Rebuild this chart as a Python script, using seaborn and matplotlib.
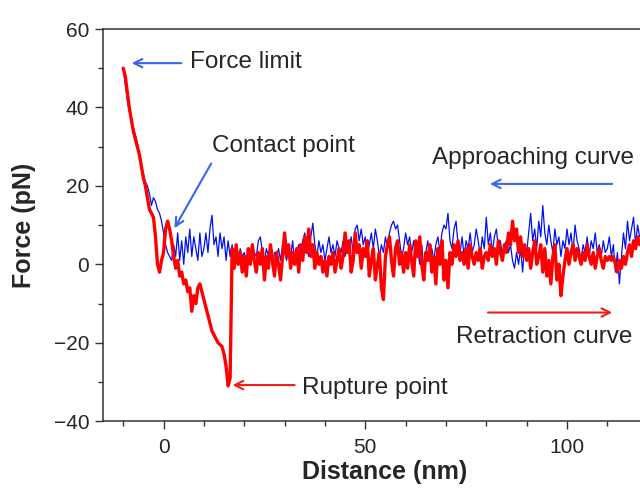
import numpy as np
import matplotlib
matplotlib.use("Agg")
import matplotlib.pyplot as plt
import matplotlib.ticker as mticker
import seaborn as sns

# ---------------------------------------------------------------
# data (0.5 nm sampling)
# ---------------------------------------------------------------
distance = np.arange(-10, 118.01, 0.5)

approach = [
    # -10 .. -0.5
    50, 46, 42, 39, 37, 35, 33, 31, 28, 25, 23, 21, 20, 18, 15, 17, 16, 14, 13, 11,
    # 0 .. 9.5
    8, 5, 3, 2, 1, 5, 2, 8, 1, 6, 0, 7, 3, 9, 2, 7, 4, 1, 8, 2,
    # 10 .. 19.5
    4, 8, 3, 9, 12.5, 5, 7, 2, 8, 4, 7, 1, 6, 2, 5, 0, 3, 1, 4, 2,
    # 20 .. 29.5
    3, 1, 4, 2, 5, 3, 2, 6, 7, 3, 1, 4, 2, 5, -1, 3, 2, 4, 1, 5,
    # 30 .. 39.5
    3, 1, 4, 2, 6, 0, 3, 5, 2, 6, 8, 4, 2, 7, 10.5, 5, 2, 6, 3, 5,
    # 40 .. 49.5
    1, 4, 7, 3, 5, 2, 6, 4, 3, 6, 2, 5, 4, 7, 3, 9, 10, 6, 9, 5,
    # 50 .. 59.5
    7, 3, 5, 8, 4, 9, 6, 2, 5, 3, 7, 4, 8, 10, 11, 9, 10, 6, 2, 4,
    # 60 .. 69.5
    8, 5, 7, 3, 6, 2, 4, 0, 5, -1, 3, 6, 2, 4, 1, 5, 7, 3, 8, 10,
    # 70 .. 79.5
    9, 13, 6, 4, 9, 11, 5, 3, 7, 2, 6, 4, 8, 3, 5, 9, 6, 2, 7, 4,
    # 80 .. 89.5
    12, 5, 8, 3, 7, 9, 4, 6, 2, 5, 6, 3, 5, 1, -1, 3, 0, 4, -2, 5,
    # 90 .. 99.5
    3, 8, 13, 6, 9, 4, 11, 7, 15, 8, 5, 10, 6, 3, 9, 5, 7, 2, 6, 4,
    # 100 .. 109.5
    9, 5, 8, 3, 10, 6, 4, 1, 5, 3, 7, 2, 6, 4, 8, 3, 5, 2, 6, 3,
    # 110 .. 118
    4, 7, 2, 5, -2, 3, -5, 2, 8, 4, 11, 6, 9, 12, 5, 10, 7,
]

retraction = [
    # -10 .. -0.5
    50, 48, 44, 40, 37, 34, 32, 30, 28, 25, 22, 20, 17, 14, 13, 12, 7, 0, -2, 1,
    # 0 .. 9.5
    3, 9, 11, 9, 6, 2, -1, 1, -3, -2, -5, -4, -7, -6, -12, -8, -10, -6, -5, -7,
    # 10 .. 19.5
    -9, -11, -13, -15, -17, -18, -19, -20, -20.5, -21, -23, -26, -31, -29, 4, -1, 5, 0, 3, -2,
    # 20 .. 29.5
    2, -3, 4, 0, 5, 1, -2, 3, 0, 4, -4, 2, -1, 5, 1, -3, 3, 0, -4, 2,
    # 30 .. 39.5
    8, 2, 5, -1, 3, 0, 4, -2, 5, 1, 7, 3, 9, 2, 5, -1, 3, 0, 2, -2,
    # 40 .. 49.5
    1, -3, 2, 0, 3, -2, 1, 4, -1, 2, 8, 3, 6, -2, 1, 8, 3, 5, -1, 4,
    # 50 .. 59.5
    2, 6, -3, 1, 4, -4, 0, 3, -6, -9, 2, 5, 7, 1, -3, 4, 6, 0, 3, -2,
    # 60 .. 69.5
    3, -1, 5, 1, -3, 6, 2, 7, 0, -4, 3, 1, 5, -2, 2, -5, 4, 0, 6, -4,
    # 70 .. 79.5
    1, -6, 3, 0, 5, 2, 6, 1, 3, 0, 4, -1, 5, 2, 0, 3, 1, 4, -1, 2,
    # 80 .. 89.5
    3, 1, 5, 2, 4, 0, 6, 3, 1, 5, 3, 8, 5, 11, 6, 9, 3, 7, 2, 5,
    # 90 .. 99.5
    1, 4, -1, 3, 6, 0, 2, 5, -2, 4, -3, 1, -5, 2, 5, -4, 0, -8, -3, 1,
    # 100 .. 109.5
    4, 0, 3, 5, 1, 4, 2, 0, 3, 1, 5, 2, 0, 3, -1, 2, 4, 1, -1, 2,
    # 110 .. 118
    1, 2, 1, 2, 0, -2, 1, -1, 2, 0, 3, 5, 2, 6, 4, 7, 5,
]

assert len(approach) == len(distance) == len(retraction)

# ---------------------------------------------------------------
# style
# ---------------------------------------------------------------
sns.set_theme(style="ticks")
plt.rcParams["font.family"] = ["Liberation Sans", "DejaVu Sans"]
TXT = "#262626"
BLUE = "#0010f0"
RED = "#ff0000"
ARROW_BLUE = "#3a66ea"

fig = plt.figure(figsize=(6.4, 4.92), dpi=100)
ax = fig.add_axes([0.161, 0.144, 0.839, 0.797])

sns.lineplot(x=distance, y=approach, ax=ax, color=BLUE, linewidth=0.9,
             estimator=None, sort=False)
sns.lineplot(x=distance, y=retraction, ax=ax, color=RED, linewidth=2.4,
             estimator=None, sort=False)

ax.set_xlim(-15, 118.1)
ax.set_ylim(-40, 60)
ax.xaxis.set_major_locator(mticker.MultipleLocator(50))
ax.xaxis.set_minor_locator(mticker.MultipleLocator(10))
ax.yaxis.set_major_locator(mticker.MultipleLocator(20))
ax.yaxis.set_minor_locator(mticker.MultipleLocator(10))
ax.tick_params(which="major", length=6, width=1, color="#333333",
               labelsize=15, labelcolor=TXT, pad=4)
ax.tick_params(which="minor", length=3.5, width=1, color="#333333")
ax.tick_params(axis="x", which="major", pad=6)

for side in ["left", "bottom", "top"]:
    ax.spines[side].set_color("#333333")
    ax.spines[side].set_linewidth(1.1)
ax.spines["right"].set_visible(False)

ax.set_xlabel("Distance (nm)", fontsize=18, fontweight="bold", color=TXT)
ax.set_ylabel("Force (pN)", fontsize=18, fontweight="bold", color=TXT)
ax.xaxis.set_label_coords(0.525, -0.10)
ax.yaxis.set_label_coords(-0.125, 0.5)

# annotations
ANN = 17.5
arrow_kw = dict(arrowstyle="->,head_length=0.5,head_width=0.25", lw=1.5,
                shrinkA=0, shrinkB=0)

ax.text(6.5, 51.5, "Force limit", fontsize=ANN, color=TXT, va="center")
ax.annotate("", xy=(-7.9, 51.3), xytext=(4.4, 51.3),
            arrowprops=dict(color=ARROW_BLUE, **arrow_kw))

ax.text(11.9, 30.1, "Contact point", fontsize=ANN, color=TXT, va="center")
ax.annotate("", xy=(2.7, 9.2), xytext=(11.8, 25.7),
            arrowprops=dict(color=ARROW_BLUE, **arrow_kw))

ax.text(66.5, 27.1, "Approaching curve", fontsize=ANN, color=TXT,
        va="center", clip_on=False)
ax.annotate("", xy=(80.9, 20.5), xytext=(111.2, 20.5),
            arrowprops=dict(color=ARROW_BLUE, **arrow_kw))

ax.text(72.5, -18.5, "Retraction curve", fontsize=ANN, color=TXT, va="center")
ax.annotate("", xy=(111.2, -12.3), xytext=(80.4, -12.3),
            arrowprops=dict(color="#ee1c1c", **arrow_kw))

ax.text(34.2, -31.6, "Rupture point", fontsize=ANN, color=TXT, va="center")
ax.annotate("", xy=(17.1, -30.8), xytext=(32.5, -30.8),
            arrowprops=dict(color="#ee1c1c", **arrow_kw))

fig.savefig("out.png", dpi=100)
